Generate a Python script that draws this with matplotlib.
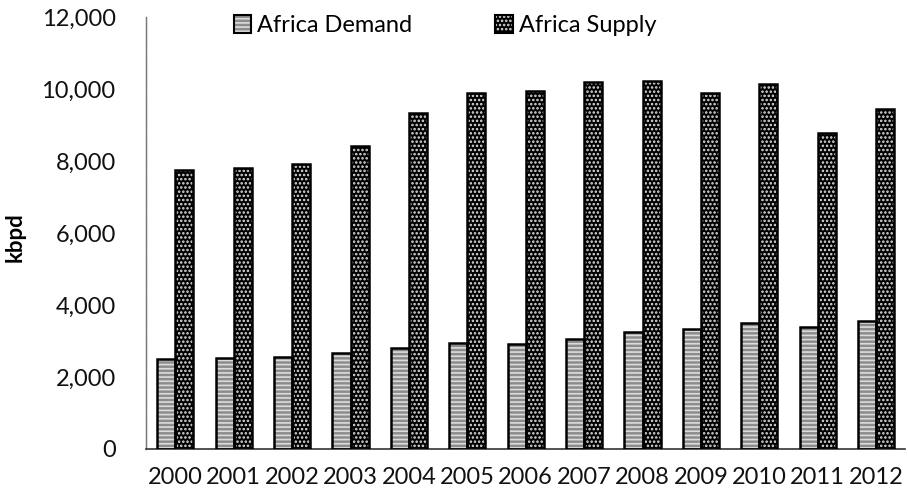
import numpy as np
import matplotlib
matplotlib.use('Agg')
import matplotlib.pyplot as plt
from matplotlib.patches import Patch
from matplotlib.ticker import FuncFormatter

years = ['2000', '2001', '2002', '2003', '2004', '2005', '2006',
         '2007', '2008', '2009', '2010', '2011', '2012']
demand = [2500, 2525, 2555, 2675, 2790, 2935, 2925,
          3065, 3240, 3320, 3510, 3390, 3540]
supply = [7760, 7815, 7920, 8400, 9335, 9890, 9950,
          10180, 10230, 9885, 10130, 8775, 9445]

plt.rcParams['font.family'] = ['Lato', 'DejaVu Sans']
plt.rcParams['hatch.linewidth'] = 1.2

fig = plt.figure(figsize=(9.08, 4.96), dpi=100)
ax = fig.add_axes([0.161, 0.095, 0.836, 0.871])

x = np.arange(len(years))
w = 0.31

# demand: grey with light horizontal stripes
ax.bar(x - w / 2, demand, w, color='#8c8c8c', edgecolor='#dcdcdc',
       hatch='----', linewidth=0, zorder=2)
ax.bar(x - w / 2, demand, w, fill=False, edgecolor='black', linewidth=1.8, zorder=3)

# supply: black with white dots
ax.bar(x + w / 2, supply, w, color='black', edgecolor='#e0e0e0',
       hatch='....', linewidth=0, zorder=2)
ax.bar(x + w / 2, supply, w, fill=False, edgecolor='black', linewidth=1.8, zorder=3)

ax.set_xlim(-0.5, 12.5)
ax.set_ylim(0, 12000)
ax.set_yticks(range(0, 12001, 2000))
ax.yaxis.set_major_formatter(FuncFormatter(lambda v, p: f'{int(v):,}'))
ax.set_xticks(x)
ax.set_xticklabels(years)
ax.tick_params(axis='both', length=0, labelsize=17, labelcolor='#111111')
ax.tick_params(axis='y', pad=22)
ax.tick_params(axis='x', pad=13)

for s in ['top', 'right']:
    ax.spines[s].set_visible(False)
ax.spines['left'].set_color('#777777')
ax.spines['left'].set_linestyle((0, (1, 0.6)))
ax.spines['left'].set_linewidth(1.0)
ax.spines['bottom'].set_color('#333333')
ax.spines['bottom'].set_linewidth(1.2)

ax.set_ylabel('kbpd', fontsize=16, fontweight='bold')
ax.yaxis.set_label_coords(-0.159, 0.49)

h_dem = (Patch(facecolor='#8c8c8c', edgecolor='#dcdcdc', hatch='----', linewidth=0),
         Patch(fill=False, edgecolor='black', linewidth=1.5))
h_sup = (Patch(facecolor='black', edgecolor='#e0e0e0', hatch='....', linewidth=0),
         Patch(fill=False, edgecolor='black', linewidth=1.5))
fig.legend([h_dem, h_sup], ['Africa Demand', 'Africa Supply'],
           loc='center', bbox_to_anchor=(0.49, 0.948), ncol=2, frameon=False,
           fontsize=17, handlelength=0.75, handleheight=0.75,
           handletextpad=0.25, columnspacing=3.5)

fig.savefig('out.png', dpi=100)
